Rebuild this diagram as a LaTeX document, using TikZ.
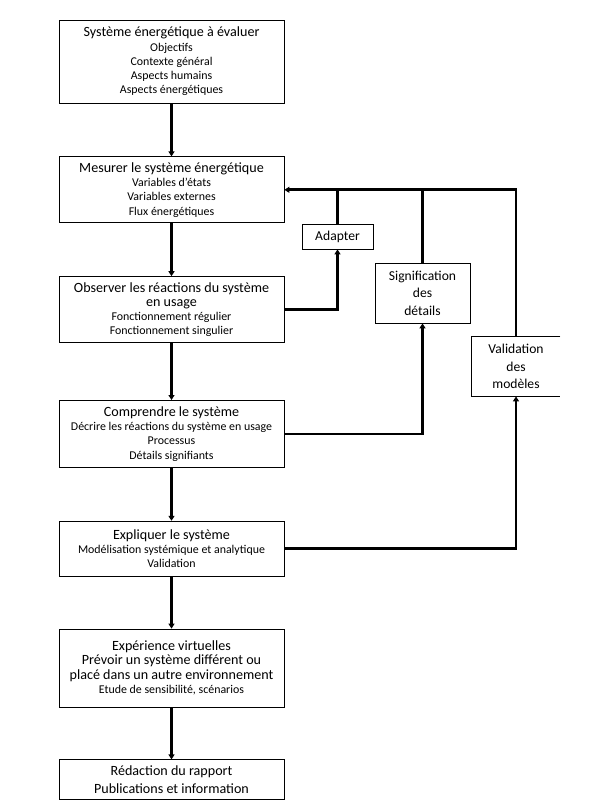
\documentclass[tikz,border=0pt]{standalone}
\usepackage{fontspec}
\setmainfont{Carlito}
\usepackage{tikz}
\usetikzlibrary{arrows.meta,positioning}
\newcommand{\ttlfont}{\fontsize{14.1}{17.5}\selectfont}
\newcommand{\subfont}{\fontsize{11.9}{14.3}\selectfont}
\newcommand{\sidefont}{\fontsize{13.6}{17.5}\selectfont}

\begin{document}
\begin{tikzpicture}[
  x=1pt, y=-1pt,
  node distance=53pt,
  box/.style={draw, line width=0.8pt, align=center, minimum width=225pt, inner sep=1pt, font=\subfont},
  side/.style={draw, line width=0.8pt, align=center, inner sep=1pt, font=\sidefont},
  arrow/.style={-{Triangle[length=5pt,width=6pt]}, line width=2.6pt},
  link/.style={line width=2.6pt}
]
  \useasboundingbox (0,0) rectangle (602,810);

  % main chain
  \node[box, minimum height=83pt] (sys) at (171.5,61.5)
    {{\ttlfont Système énergétique à évaluer}\\ Objectifs\\ Contexte général\\ Aspects humains\\ Aspects énergétiques};
  \node[box, minimum height=66pt, below=of sys] (mes)
    {{\ttlfont Mesurer le système énergétique}\\ Variables d'états\\ Variables externes\\ Flux énergétiques};
  \node[box, minimum height=66pt, below=of mes] (obs)
    {{\ttlfont Observer les réactions du système}\\ {\ttlfont en usage}\\ Fonctionnement régulier\\ Fonctionnement singulier};
  \node[box, minimum height=67pt, below=57pt of obs] (comp)
    {{\ttlfont Comprendre le système}\\ Décrire les réactions du système en usage\\ Processus\\ Détails signifiants};
  \node[box, minimum height=55pt, below=of comp] (expl)
    {{\ttlfont Expliquer le système}\\ Modélisation systémique et analytique\\ Validation};
  \node[box, minimum height=78pt, below=52pt of expl] (virt)
    {{\ttlfont Expérience virtuelles}\\ {\ttlfont Prévoir un système différent ou}\\ {\ttlfont placé dans un autre environnement}\\ Etude de sensibilité, scénarios};
  \node[box, minimum height=40pt, below=52pt of virt, font=\ttlfont] (redac)
    {Rédaction du rapport\\ Publications et information};

  % feedback boxes
  \node[side, minimum width=71pt, minimum height=25pt] (adapt) at (337.5,236.5) {Adapter};
  \node[side, minimum width=95pt, minimum height=60pt] (signif) at (422.5,293) {Signification\\ des\\ détails};
  \node[side, draw=none, minimum width=88pt, minimum height=59pt] (valid) at (516,366.5) {Validation\\ des\\ modèles};
  % right side cut off at the page edge
  \draw[line width=0.8pt] (valid.north east) -- (valid.north west) -- (valid.south west) -- (valid.south east);

  \draw[arrow] (sys) -- (mes);
  \draw[arrow] (mes) -- (obs);
  \draw[arrow] (obs) -- (comp);
  \draw[arrow] (comp) -- (expl);
  \draw[arrow] (expl) -- (virt);
  \draw[arrow] (virt) -- (redac);

  \draw[arrow] (obs.east) -| (adapt.south);
  \draw[arrow] (comp.east) -| (signif.south);
  \draw[arrow] (expl.east) -| (valid.south);
  \draw[arrow] (valid.north) |- (mes.east);
  \draw[link] (adapt.north) -- (adapt.north |- mes.east);
  \draw[link] (signif.north) -- (signif.north |- mes.east);
\end{tikzpicture}
\end{document}
